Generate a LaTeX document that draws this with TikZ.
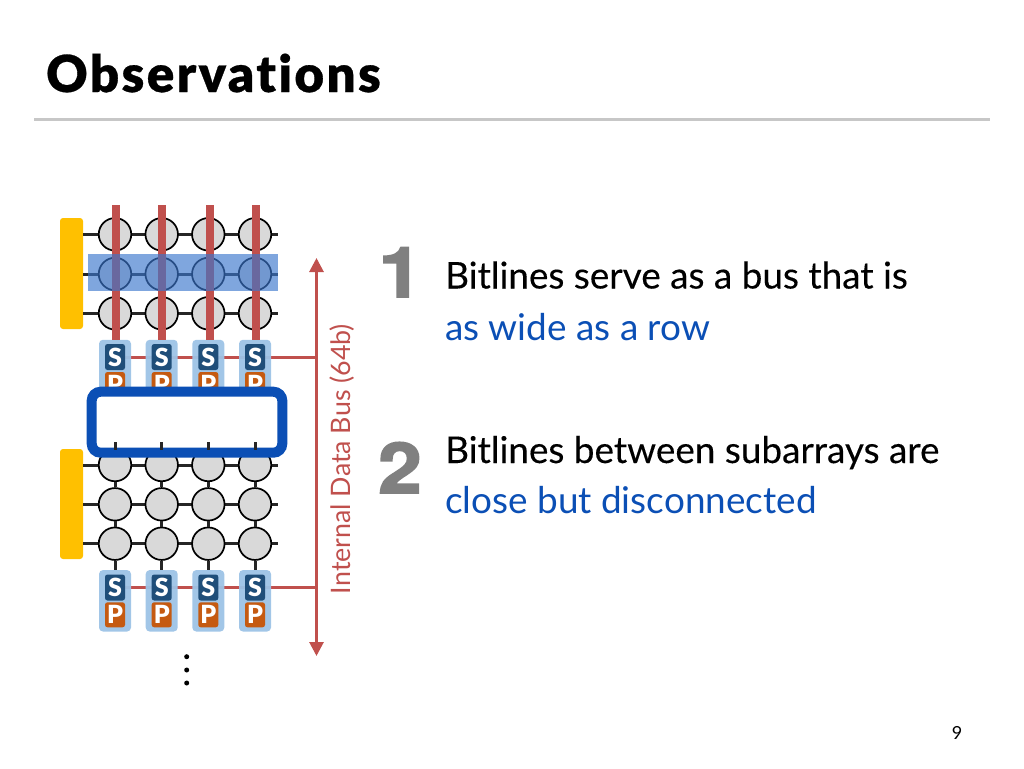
\documentclass[tikz,border=0pt]{standalone}
\usepackage{fontspec}
\setmainfont[Ligatures=NoCommon]{Lato}
\newfontfamily\digitfont[BoldFont=*,FakeBold=2.5,FakeStretch=1.12]{TeX Gyre Heros Bold}
\newfontfamily\blackfont[Ligatures=NoCommon]{Lato Black}
\newfontfamily\titlefont[Ligatures=NoCommon,LetterSpace=4.8,FakeBold=0.6]{Lato Black}
\newfontfamily\bodydark[Ligatures=NoCommon,FakeBold=0.2]{Lato}
\usetikzlibrary{arrows.meta}
\definecolor{redline}{HTML}{C0504D}
\definecolor{decblue}{HTML}{0B4FB5}
\definecolor{yellowbar}{HTML}{FFC000}
\definecolor{cellgray}{HTML}{D9D9D9}
\definecolor{holder}{HTML}{9DC3E6}
\definecolor{sblue}{HTML}{1F4E79}
\definecolor{porange}{HTML}{C55A11}
\definecolor{wire}{HTML}{262626}
\definecolor{bandblue}{HTML}{3B76CC}
\tikzset{
  x=1pt,y=-1pt,
  cell/.style={circle,draw=black,line width=1.7pt,fill=cellgray,minimum size=32.5pt,inner sep=0pt},
  wireline/.style={draw=wire,line width=3pt},
  bitred/.style={draw=redline,line width=8.5pt},
  busred/.style={draw=redline,line width=2.8pt},
  bar/.style={fill=yellowbar,rounded corners=3pt,minimum width=23pt,inner sep=0pt},
  holderbox/.style={fill=holder,rounded corners=4pt,minimum width=32pt,minimum height=61.5pt,inner sep=0pt,opacity=.95},
  sbox/.style={fill=sblue,rounded corners=2.5pt,minimum width=20pt,minimum height=26pt,inner sep=0pt,text=white,font=\blackfont\fontsize{25}{25}\selectfont},
  pbox/.style={fill=porange,rounded corners=2.5pt,minimum width=20pt,minimum height=25pt,inner sep=0pt,text=white,font=\blackfont\fontsize{25}{25}\selectfont},
  band/.style={fill=bandblue,fill opacity=.65,minimum width=190pt,minimum height=37pt,inner sep=0pt},
  dec/.style={draw=decblue,fill=white,line width=10pt,rounded corners=9pt,minimum width=190.6pt,minimum height=61pt,inner sep=0pt},
  body/.style={anchor=base west,inner sep=0pt,font=\fontsize{36.9}{36.9}\selectfont},
  bodyk/.style={body,font=\bodydark\fontsize{36.9}{36.9}\selectfont},
  num/.style={anchor=base,inner sep=0pt,text=black!50,font=\digitfont\fontsize{70}{70}\selectfont},
  dotmark/.style={circle,fill=black,minimum size=5pt,inner sep=0pt},
}
\begin{document}
\begin{tikzpicture}
\useasboundingbox (0,0) rectangle (1024,768);
% title
\node[anchor=base west,inner sep=0pt,font=\titlefont\fontsize{51}{51}\selectfont] (title) at (46,92) {Observations};
\coordinate (ruleL) at (34,119.5); \coordinate (ruleR) at (990,119.5);
\draw[draw=black!22,line width=2.4pt] (ruleL) -- (ruleR);
% bars
\node[bar,minimum height=111pt] (barT) at (71.5,273.5) {};
\node[bar,minimum height=110pt] (barB) at (71.5,504) {};
\foreach \a/\ya/\yb/\yc in {T/234.3/274/313.3,B/465/504.3/543.7}{
  \foreach \r/\y in {1/\ya,2/\yb,3/\yc}{
    \coordinate (\a end\r) at (278,\y);
    \foreach \c/\x in {1/115,2/161.7,3/208.3,4/255}{
      \coordinate (\a c\r\c) at (\x,\y);
    }
    \draw[wireline] (83,\y) -- (\a end\r);
  }
  \foreach \c in {1,2,3,4}{
    \foreach \r in {1,2,3}{
      \node[cell] (\a n\r\c) at (\a c\r\c) {};
    }
  }
}
% vertical wires, bottom array
\foreach \c/\x in {1/115,2/161.7,3/208.3,4/255}{
  \draw[wireline] (Bn1\c) -- (Bn2\c);
  \draw[wireline] (Bn2\c) -- (Bn3\c);
}
% sense amps
\foreach \a/\ys/\yp/\yh/\yb in {T/357/384.5/370.5/357.7,B/587.5/614.8/600.8/587.7}{
  \coordinate (\a busend) at (316,\yb);
  \coordinate (\a busstart) at (115,\yb);
  \draw[busred] (\a busstart) -- (\a busend);
  \foreach \c/\x in {1/115,2/161.7,3/208.3,4/255}{
    \node[holderbox] (\a h\c) at (\x,\yh) {};
    \node[sbox] (\a s\c) at (\x,\ys) {S};
    \node[pbox] (\a p\c) at (\x,\yp) {P};
  }
}
% vertical wires to B sense amps
\foreach \c in {1,2,3,4}{
  \draw[wireline] (Bn3\c) -- (Bh\c);
}
% red bitlines
\foreach \c/\x in {1/116,2/162,3/210,4/256}{
  \coordinate (bt\c) at (\x,205);
  \coordinate (bb\c) at (\x,340);
  \draw[bitred] (bt\c) -- (bb\c);
}
% highlighted row
\node[band] (rowband) at (183,272.5) {};
% bus arrow
\coordinate (busT) at (316.5,258); \coordinate (busB) at (316.5,656);
\draw[busred,{Triangle[length=14pt,width=14pt]}-{Triangle[length=14pt,width=14pt]}] (busT) -- (busB);
\node[rotate=90,inner sep=0pt,text=redline,font=\fontsize{26.8}{26.8}\selectfont] (buslabel) at (342,459) {Internal Data Bus (64b)};
% decoupling box
\node[dec] (gap) at (187,422.2) {};
% stubs visible in gap
\foreach \c/\x in {1/115,2/161.7,3/208.3,4/255}{
  \coordinate (stub\c) at (\x,442);
  \coordinate (stube\c) at (\x,450);
  \draw[wireline] (stub\c) -- (stube\c);
}
% dots
\node[dotmark] (d1) at (186.7,656.7) {};
\node[dotmark] (d2) at (186.7,670) {};
\node[dotmark] (d3) at (186.7,683) {};
% text
\node[num] (n1) at (400.5,297) {1};
\node[num] (n2) at (400,493) {2};
\node[bodyk] (t1) at (445,288.5) {Bitlines serve as a bus that is};
\node[body,text=decblue] (t1b) at (445,340) {as wide as a row};
\node[bodyk] (t2) at (445,463) {Bitlines between subarrays are};
\node[body,text=decblue] (t2b) at (445,513) {close but disconnected};
\node[anchor=base,inner sep=0pt,font=\fontsize{18}{18}\selectfont] (page) at (957,739) {9};
\end{tikzpicture}
\end{document}
